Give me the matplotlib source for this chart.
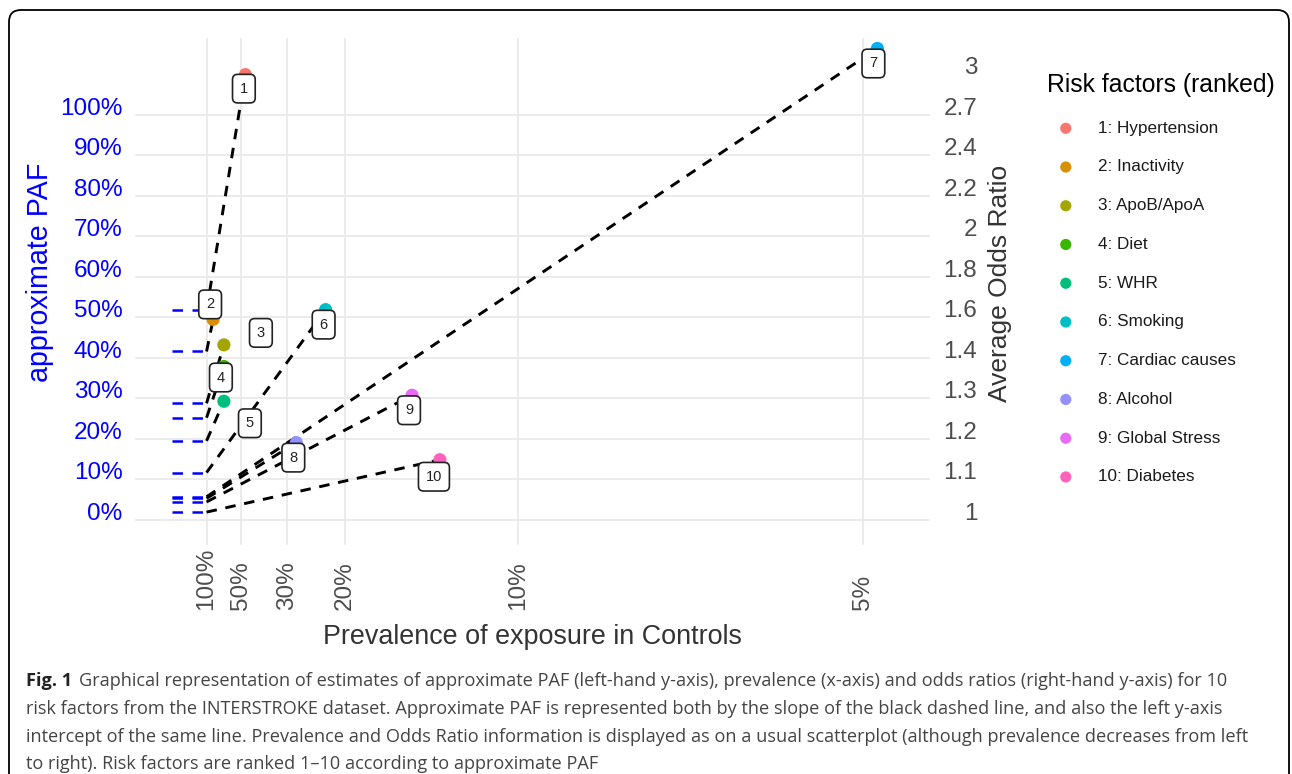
import numpy as np
import matplotlib.pyplot as plt
from matplotlib.patches import FancyBboxPatch

plt.rcParams["font.family"] = ["Liberation Sans", "DejaVu Sans"]

# risk factors, ranked by approximate PAF
factors = ["Hypertension", "Inactivity", "ApoB/ApoA", "Diet", "WHR",
           "Smoking", "Cardiac causes", "Alcohol", "Global Stress", "Diabetes"]
# prevalence of exposure in controls
prevalence = [0.471, 0.84, 0.666, 0.666, 0.666, 0.225, 0.049, 0.278, 0.144, 0.129]
# average odds ratios
odds_ratio = [3.00, 1.64, 1.54, 1.46, 1.34, 1.68, 3.20, 1.21, 1.36, 1.16]
colors = ["#F8766D", "#D89000", "#A3A500", "#39B600", "#00BF7D",
          "#00BFC4", "#00B0F6", "#9590FF", "#E76BF3", "#FF62BC"]

x_tick_prev = [1.0, 0.5, 0.3, 0.2, 0.1, 0.05]
x_tick_labels = ["100%", "50%", "30%", "20%", "10%", "5%"]
paf_ticks = [0.0, 0.1, 0.2, 0.3, 0.4, 0.5, 0.6, 0.7, 0.8, 0.9, 1.0]
paf_labels = ["0%", "10%", "20%", "30%", "40%", "50%", "60%", "70%", "80%", "90%", "100%"]
or_ticks = [0.0, 0.1, 0.2, 0.3, 0.4, 0.5, 0.6, 0.7, 0.8, 0.9, 1.0, 1.1]
or_labels = ["1", "1.1", "1.2", "1.3", "1.4", "1.6", "1.8", "2", "2.2", "2.4", "2.7", "3"]

# where the numbered boxes sit relative to their dot (pixels, y up)
label_offsets = [(-1.5, -14), (-3, 15), (37, 12), (-3, -11), (26, -22),
                 (-2, -15), (-4, -15), (-3, -15), (-3, -15), (-6, -17)]

caption_lines = [
    "Graphical representation of estimates of approximate PAF (left-hand y-axis), prevalence (x-axis) and odds ratios (right-hand y-axis) for 10",
    "risk factors from the INTERSTROKE dataset. Approximate PAF is represented both by the slope of the black dashed line, and also the left y-axis",
    "intercept of the same line. Prevalence and Odds Ratio information is displayed as on a usual scatterplot (although prevalence decreases from left",
    "to right). Risk factors are ranked 1\u201310 according to approximate PAF",
]

# x is 1/prevalence, y is log(OR); approximate PAF = prevalence * log(OR)
inv_prev = 1 / np.array(prevalence)
log_or = np.log(np.array(odds_ratio))
paf = np.array(prevalence) * log_or

W, H = 1292, 774
fig = plt.figure(figsize=(W / 100, H / 100), dpi=100)
ax = fig.add_axes([135 / W, 1 - 545 / H, (930 - 135) / W, (545 - 38) / H])
ax.set_xlim(-1.07, 21.93)
ax.set_ylim(-0.062, 1.189)

for s in ax.spines.values():
    s.set_visible(False)
ax.grid(True, color="#EBEBEB", lw=1.4, zorder=0)
ax.set_axisbelow(True)

for i in range(len(factors)):
    ax.plot([0, 1], [paf[i], paf[i]], color="#0000FF", lw=1.8,
            linestyle=(0, (4.2, 3.8)), zorder=2)
    ax.plot([1, inv_prev[i]], [paf[i], log_or[i]], color="black", lw=2.1,
            linestyle=(0, (3.6, 3.0)), zorder=2)
    ax.scatter(inv_prev[i], log_or[i], s=90, color=colors[i], zorder=3,
               label=f"{i + 1}: {factors[i]}", edgecolors="none")

for i in range(len(factors)):
    ax.annotate(str(i + 1), xy=(inv_prev[i], log_or[i]), xytext=label_offsets[i],
                textcoords="offset pixels", ha="center", va="center",
                fontsize=10.5, color="#222222", zorder=5,
                bbox=dict(boxstyle="round,pad=0.5,rounding_size=0.35",
                          fc="white", ec="#222222", lw=1.2))

ax.set_xticks(1 / np.array(x_tick_prev))
ax.set_xticklabels(x_tick_labels, rotation=90, va="bottom", ha="center",
                   fontsize=17.5, color="#4D4D4D")
ax.tick_params(axis="x", length=0, pad=47)

ax.set_yticks(paf_ticks)
ax.set_yticklabels(paf_labels, fontsize=17.5, color="#0000FF", va="baseline")
ax.tick_params(axis="y", length=0, pad=9)

ax2 = ax.twinx()
ax2.set_ylim(ax.get_ylim())
for s in ax2.spines.values():
    s.set_visible(False)
ax2.set_yticks(or_ticks)
ax2.set_yticklabels(or_labels, fontsize=17.5, color="#4D4D4D", ha="right", va="baseline")
ax2.tick_params(axis="y", length=0, pad=34)

fig.text(40 / W, 1 - 272 / H, "approximate PAF", rotation=90, color="#0000FF",
         fontsize=20.6, ha="center", va="center")
fig.text(1000 / W, 1 - 283 / H, "Average Odds Ratio", rotation=90, color="#333333",
         fontsize=19, ha="center", va="center")
fig.text(532 / W, 1 - 637 / H, "Prevalence of exposure in Controls", color="#333333",
         fontsize=19.4, ha="center", va="center")

leg = ax.legend(loc="upper left", bbox_to_anchor=(1047 / W, 1 - 73 / H),
                bbox_transform=fig.transFigure, frameon=False,
                title="Risk factors (ranked)", title_fontsize=17.8, fontsize=12.3,
                labelspacing=1.39, handlelength=2.2, handletextpad=0.76,
                markerscale=0.85, borderpad=0, borderaxespad=0, alignment="left")
for t in leg.get_texts():
    t.set_color("#1A1A1A")

# rounded frame around the figure panel
frame = FancyBboxPatch((0.09, -0.5), 12.8, 7.64 + 0.5,
                       boxstyle="round,pad=0,rounding_size=0.12",
                       transform=fig.dpi_scale_trans, fc="none", ec="black", lw=1.3)
fig.add_artist(frame)

cap_font = ["Open Sans", "DejaVu Sans"]
cap_size = 13.1
fig_lab = fig.text(26 / W, 1 - 681 / H, "Fig. 1", family=cap_font, fontweight="bold",
                   fontsize=cap_size, color="#222222", va="center")
renderer = fig.canvas.get_renderer()
lab_end = fig_lab.get_window_extent(renderer).x1
fig.text((lab_end + 7) / W, 1 - 681 / H, caption_lines[0], family=cap_font,
         fontsize=cap_size, color="#444444", va="center")
for k, line in enumerate(caption_lines[1:]):
    fig.text(26 / W, 1 - (709 + 27.5 * k) / H, line, family=cap_font,
             fontsize=cap_size, color="#444444", va="center")

fig.savefig("out.png", dpi=100)
